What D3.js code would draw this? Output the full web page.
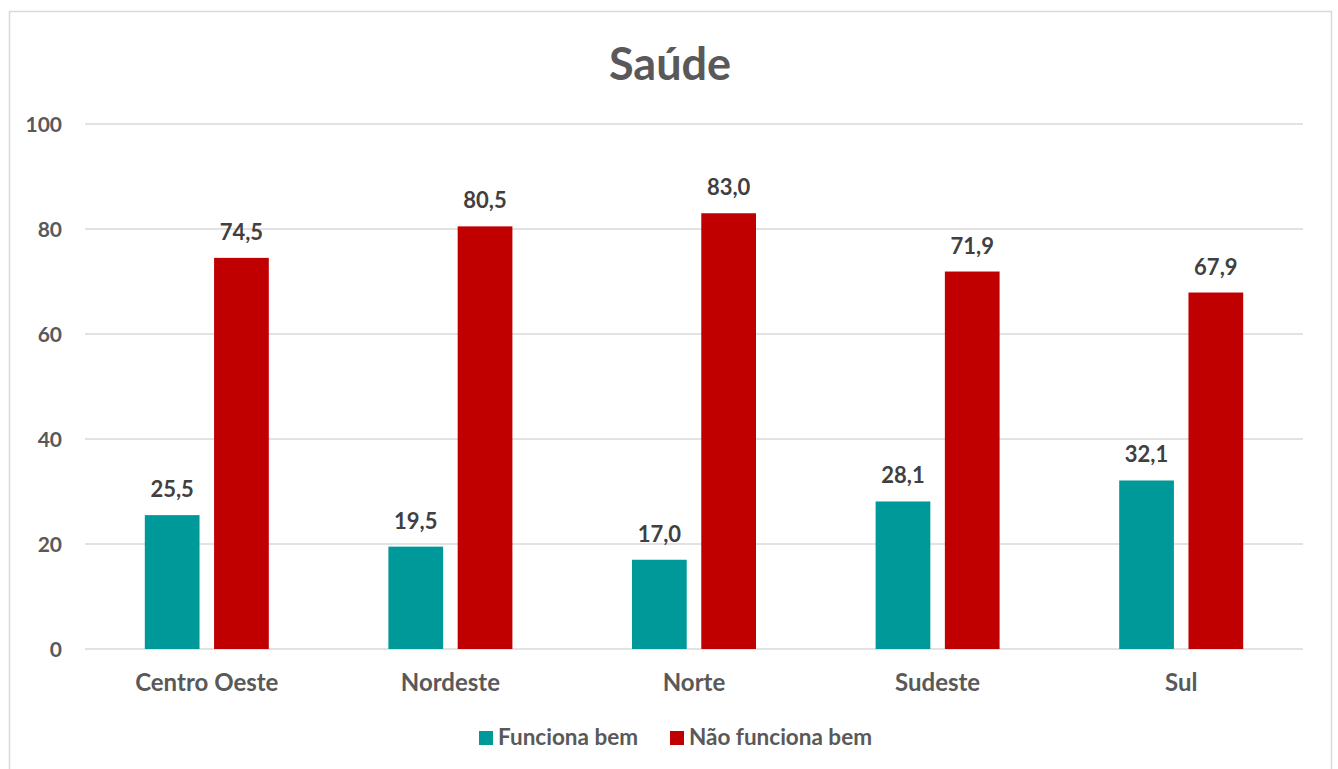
<!DOCTYPE html>
<html>
<head>
<meta charset="utf-8">
<script src="https://cdn.jsdelivr.net/npm/d3@7"></script>
<style>
  body { margin: 0; background: #fff; }
  text { font-family: Lato, "Open Sans", sans-serif; font-weight: bold; }
</style>
</head>
<body>
<script>
  // chart data
  let regions = ["Centro Oeste", "Nordeste", "Norte", "Sudeste", "Sul"];
  let funciona = [25.5, 19.5, 17.0, 28.1, 32.1];
  let naoFunciona = [74.5, 80.5, 83.0, 71.9, 67.9];
  let seriesNames = ["Funciona bem", "Não funciona bem"];
  let yTicks = [0, 20, 40, 60, 80, 100];

  let colors = ["#009999", "#C00000"];

  let svg = d3.select("body").append("svg")
    .attr("width", 1338)
    .attr("height", 769);

  // outer chart border
  svg.append("rect")
    .attr("x", 9.5)
    .attr("y", 11.5)
    .attr("width", 1322)
    .attr("height", 770)
    .attr("fill", "white")
    .attr("stroke", "#d9d9d9")
    .attr("stroke-width", 1.5);

  svg.append("text")
    .attr("x", 670)
    .attr("y", 80)
    .attr("text-anchor", "middle")
    .style("font-size", "45px")
    .style("fill", "#595959")
    .text("Saúde");

  let x = d3.scaleBand()
    .domain(regions)
    .range([85, 1303]);

  let y = d3.scaleLinear()
    .domain([0, 100])
    .range([649, 124]);

  // gridlines
  svg.selectAll(".grid")
    .data(yTicks)
    .enter()
    .append("line")
    .attr("x1", 85)
    .attr("x2", 1303)
    .attr("y1", d => y(d))
    .attr("y2", d => y(d))
    .attr("stroke", "#d9d9d9")
    .attr("stroke-width", 1.5);

  // y tick labels
  svg.selectAll(".ytick")
    .data(yTicks)
    .enter()
    .append("text")
    .attr("x", 62)
    .attr("y", d => y(d))
    .attr("dy", "0.36em")
    .attr("text-anchor", "end")
    .style("font-size", "21px")
    .style("fill", "#595959")
    .text(d => d);

  // category labels
  svg.selectAll(".xtick")
    .data(regions)
    .enter()
    .append("text")
    .attr("x", d => x(d) + x.bandwidth() / 2)
    .attr("y", 691)
    .attr("text-anchor", "middle")
    .style("font-size", "24px")
    .style("fill", "#595959")
    .text(d => d);

  let inner = d3.scaleBand()
    .domain([0, 1])
    .range([-62, 62])
    .paddingInner(0.21);

  let series = [funciona, naoFunciona];

  series.forEach(function(vals, s) {
    let rows = regions.map((r, i) => ({ region: r, value: vals[i] }));

    svg.selectAll(".bar" + s)
      .data(rows)
      .enter()
      .append("rect")
      .attr("x", d => x(d.region) + x.bandwidth() / 2 + inner(s))
      .attr("y", d => y(d.value))
      .attr("width", inner.bandwidth())
      .attr("height", d => 649 - y(d.value))
      .attr("fill", colors[s]);

    svg.selectAll(".label" + s)
      .data(rows)
      .enter()
      .append("text")
      .attr("x", d => x(d.region) + x.bandwidth() / 2 + inner(s) + inner.bandwidth() / 2)
      .attr("y", d => y(d.value) - 18)
      .attr("text-anchor", "middle")
      .style("font-size", "22px")
      .style("fill", "#404040")
      .text(d => d.value.toFixed(1).replace(".", ","));
  });

  // legend
  let legendX = [479, 670];
  seriesNames.forEach(function(name, s) {
    svg.append("rect")
      .attr("x", legendX[s])
      .attr("y", 731)
      .attr("width", 14)
      .attr("height", 14)
      .attr("fill", colors[s]);
    svg.append("text")
      .attr("x", legendX[s] + 19)
      .attr("y", 745)
      .style("font-size", "22.5px")
      .style("fill", "#595959")
      .text(name);
  });
</script>
</body>
</html>
